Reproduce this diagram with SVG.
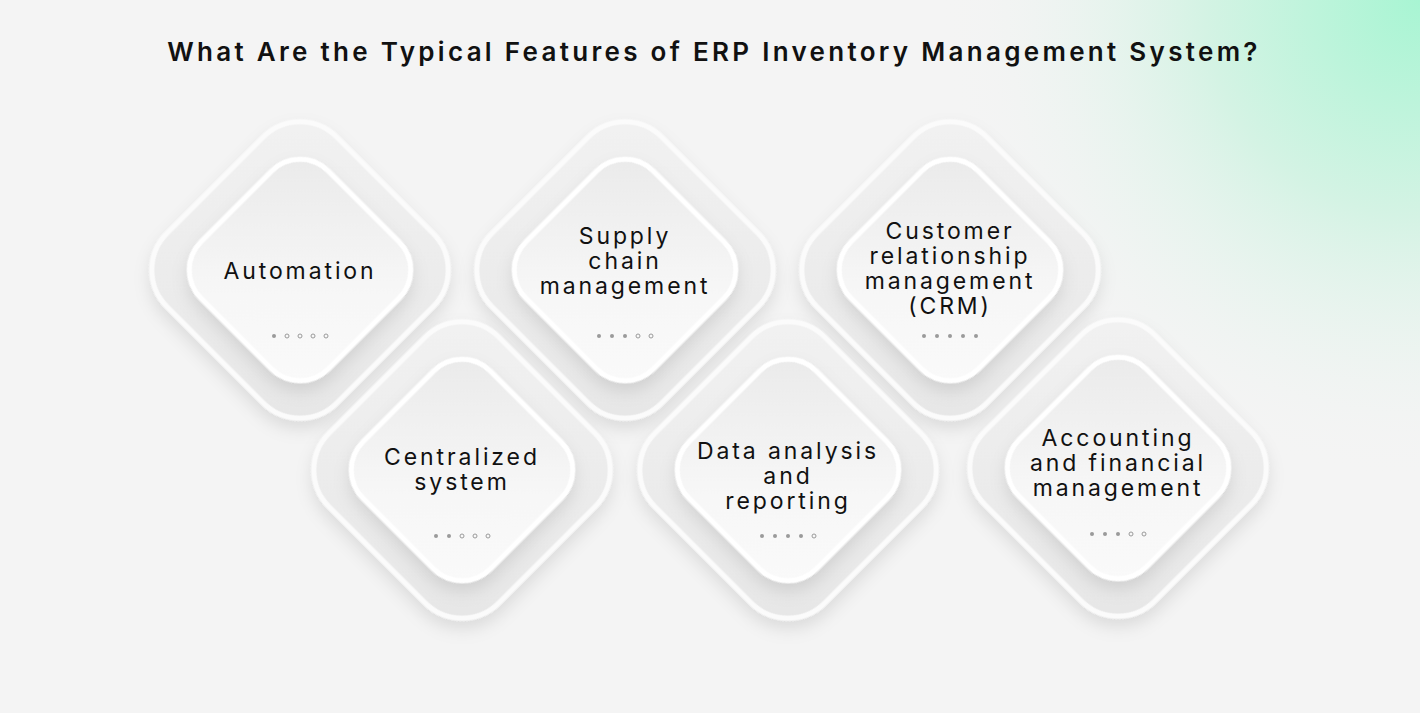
<svg xmlns="http://www.w3.org/2000/svg" width="1420" height="713" viewBox="0 0 1420 713">
<defs>
<radialGradient id="bg" cx="1420" cy="0" r="480" gradientUnits="userSpaceOnUse">
<stop offset="0" stop-color="#a8f5d3"/><stop offset="0.45" stop-color="#d4f3e4"/><stop offset="1" stop-color="#f4f4f4" stop-opacity="0"/>
</radialGradient>
<linearGradient id="og" x1="0" y1="0" x2="1" y2="1"><stop offset="0" stop-color="#f2f2f2"/><stop offset="1" stop-color="#e6e6e6"/></linearGradient>
<linearGradient id="ig" x1="0" y1="0" x2="1" y2="1"><stop offset="0" stop-color="#e9e9e9"/><stop offset="0.6" stop-color="#f7f7f7"/><stop offset="1" stop-color="#fafafa"/></linearGradient>
<filter id="sh" x="-30%" y="-30%" width="160%" height="160%"><feDropShadow dx="6" dy="6" stdDeviation="8" flood-color="#000" flood-opacity="0.10"/></filter>
<g id="dia">
<rect x="-120" y="-120" width="240" height="240" rx="52" transform="rotate(45)" fill="url(#og)" stroke="#fbfbfb" stroke-width="5" filter="url(#sh)"/>
<rect x="-90" y="-90" width="180" height="180" rx="40" transform="rotate(45)" fill="url(#ig)" stroke="#ffffff" stroke-width="5" filter="url(#sh)"/>
</g>
</defs>
<style>
.t{font-family:Inter,"Open Sans",sans-serif;font-size:23px;fill:#111;text-anchor:middle;letter-spacing:2.9px}
.f{fill:#9a9a9a}.o{fill:none;stroke:#9a9a9a;stroke-width:1}
</style>
<rect width="1420" height="713" fill="#f4f4f4"/>
<rect width="1420" height="713" fill="url(#bg)"/>
<text x="714" y="61" font-family="Inter,'Open Sans',sans-serif" font-size="26" font-weight="600" letter-spacing="3.3" text-anchor="middle" fill="#111">What Are the Typical Features of ERP Inventory Management System?</text>
<g id="connectors"/>
<g id="n1" transform="translate(300,270)"><use href="#dia"/><text class="t" y="9">Automation</text>
<g transform="translate(0,66)"><circle class="f" cx="-26" r="2"/><circle class="o" cx="-13" r="2"/><circle class="o" cx="0" r="2"/><circle class="o" cx="13" r="2"/><circle class="o" cx="26" r="2"/></g></g>
<g id="n2" transform="translate(625,270)"><use href="#dia"/><text class="t" y="-26">Supply</text><text class="t" y="-1">chain</text><text class="t" y="24">management</text>
<g transform="translate(0,66)"><circle class="f" cx="-26" r="2"/><circle class="f" cx="-13" r="2"/><circle class="f" cx="0" r="2"/><circle class="o" cx="13" r="2"/><circle class="o" cx="26" r="2"/></g></g>
<g id="n3" transform="translate(950,270)"><use href="#dia"/><text class="t" y="-31">Customer</text><text class="t" y="-6">relationship</text><text class="t" y="19">management</text><text class="t" y="44">(CRM)</text>
<g transform="translate(0,66)"><circle class="f" cx="-26" r="2"/><circle class="f" cx="-13" r="2"/><circle class="f" cx="0" r="2"/><circle class="f" cx="13" r="2"/><circle class="f" cx="26" r="2"/></g></g>
<g id="n4" transform="translate(462,470)"><use href="#dia"/><text class="t" y="-5">Centralized</text><text class="t" y="20">system</text>
<g transform="translate(0,66)"><circle class="f" cx="-26" r="2"/><circle class="f" cx="-13" r="2"/><circle class="o" cx="0" r="2"/><circle class="o" cx="13" r="2"/><circle class="o" cx="26" r="2"/></g></g>
<g id="n5" transform="translate(788,470)"><use href="#dia"/><text class="t" y="-11">Data analysis</text><text class="t" y="14">and</text><text class="t" y="39">reporting</text>
<g transform="translate(0,66)"><circle class="f" cx="-26" r="2"/><circle class="f" cx="-13" r="2"/><circle class="f" cx="0" r="2"/><circle class="f" cx="13" r="2"/><circle class="o" cx="26" r="2"/></g></g>
<g id="n6" transform="translate(1118,468)"><use href="#dia"/><text class="t" y="-22">Accounting</text><text class="t" y="3">and financial</text><text class="t" y="28">management</text>
<g transform="translate(0,66)"><circle class="f" cx="-26" r="2"/><circle class="f" cx="-13" r="2"/><circle class="f" cx="0" r="2"/><circle class="o" cx="13" r="2"/><circle class="o" cx="26" r="2"/></g></g>
</svg>
